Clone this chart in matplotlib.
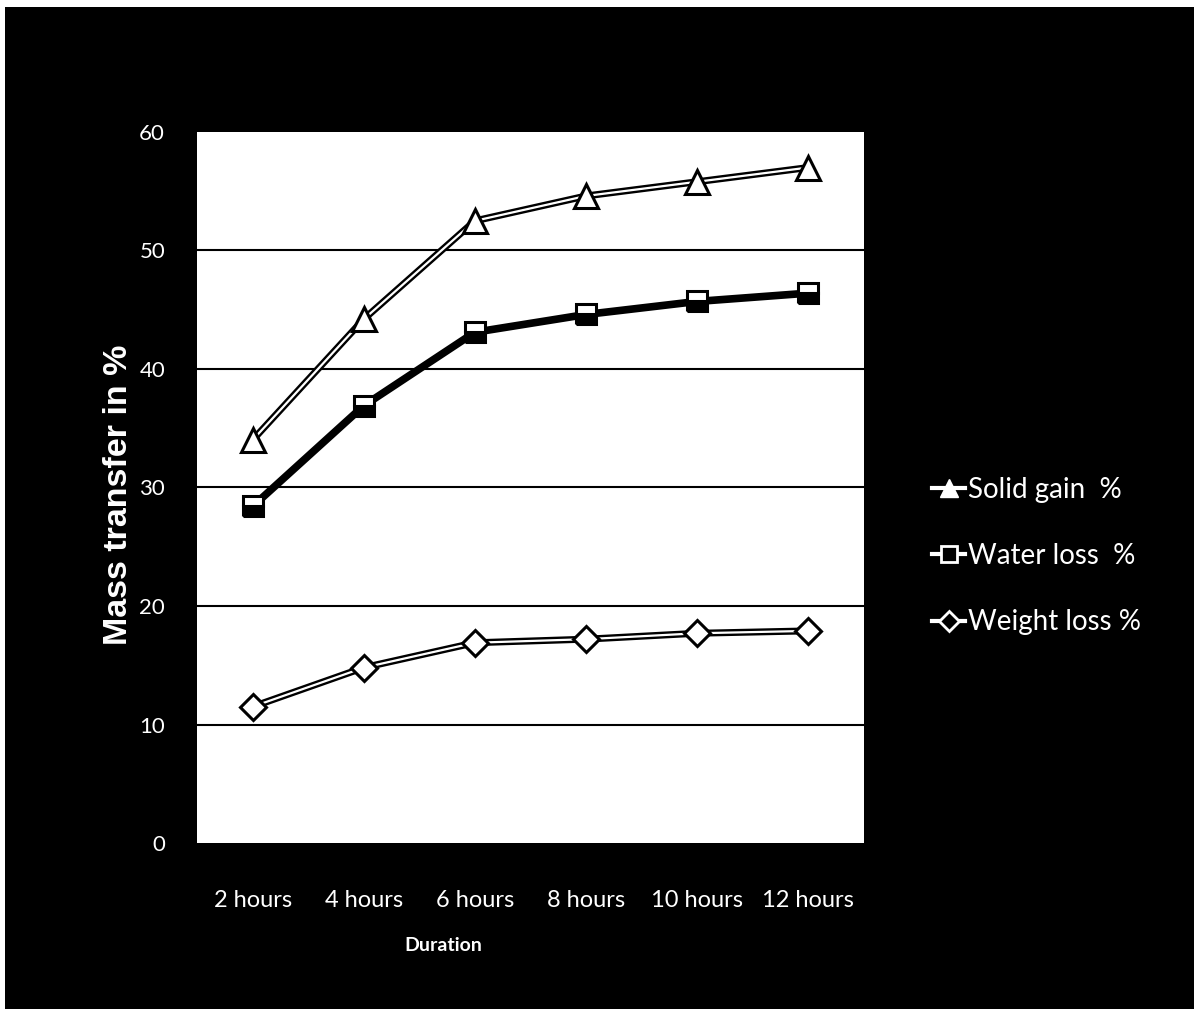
import matplotlib
matplotlib.use("Agg")
import matplotlib.pyplot as plt
from matplotlib.lines import Line2D
from matplotlib.patches import Rectangle

# durations and measured mass transfer (%)
durations = ["2 hours", "4 hours", "6 hours", "8 hours", "10 hours", "12 hours"]
solid_gain = [34.0, 44.2, 52.5, 54.6, 55.8, 57.0]
water_loss = [28.4, 36.9, 43.1, 44.6, 45.7, 46.4]
weight_loss = [11.5, 14.8, 16.9, 17.2, 17.7, 17.9]
y_ticks = [0, 10, 20, 30, 40, 50, 60]

body = ["Lato", "DejaVu Sans"]

fig = plt.figure(figsize=(11.94, 10.09), dpi=100, facecolor="white")
fig.add_artist(Rectangle((0.004, 0), 0.996, 0.993, transform=fig.transFigure,
                         facecolor="black", edgecolor="none", zorder=-10))

ax = fig.add_axes([0.165, 0.1645, 0.5585, 0.7047])
ax.set_facecolor("white")
x = list(range(len(durations)))

# outlined (double) line: black underlay with white core
def double_line(vals, marker, ms):
    ax.plot(x, vals, color="black", lw=5.0, solid_capstyle="round", zorder=3)
    ax.plot(x, vals, color="white", lw=1.6, zorder=4)
    ax.plot(x, vals, ls="none", marker=marker, ms=ms, mfc="white", mec="black",
            mew=2.2, zorder=5)

double_line(solid_gain, "^", 17)
ax.plot(x, water_loss, color="black", lw=5.5, zorder=3)
ax.plot(x, water_loss, ls="none", marker="s", ms=15, mfc="black", mec="black",
        mew=2.2, fillstyle="bottom", markerfacecoloralt="white", zorder=5)
double_line(weight_loss, "D", 13)

ax.set_xlim(-0.5, len(durations) - 0.5)
ax.set_ylim(0, 60)
ax.set_yticks(y_ticks)
ax.set_yticklabels([str(v) for v in y_ticks], family=body, fontsize=16,
                   color="white")
ax.set_xticks(x)
ax.set_xticklabels(durations, family=body, fontsize=17, color="white")
ax.tick_params(axis="y", length=0, pad=23)
ax.tick_params(axis="x", length=0, pad=34)
for g in y_ticks[1:-1]:
    ax.axhline(g, color="black", lw=1.5, zorder=1)
for s in ax.spines.values():
    s.set_visible(False)

ax.set_ylabel("Mass transfer in %", fontsize=24.5, fontweight="bold", color="white",
              family="Liberation Sans")
ax.yaxis.set_label_coords(-0.095, 0.49)
ax.set_xlabel("Duration", family=body, fontsize=14, fontweight="bold",
              color="white")
ax.xaxis.set_label_coords(0.369, -0.132)

handles = [
    Line2D([], [], color="white", lw=3, marker="^", ms=13, mfc="white", mec="white"),
    Line2D([], [], color="white", lw=3, marker="s", ms=12, mfc="black", mec="white", mew=2),
    Line2D([], [], color="white", lw=3, marker="D", ms=10, mfc="black", mec="white", mew=2),
]
labels = ["Solid gain  %", "Water loss  %", "Weight loss %"]
leg = fig.legend(handles, labels, loc="center left", bbox_to_anchor=(0.769, 0.449),
                 frameon=False, borderpad=0, handlelength=1.2, handletextpad=0.1,
                 labelspacing=1.45, prop={"family": body, "size": 20})
for t in leg.get_texts():
    t.set_color("white")

fig.savefig("out.png", dpi=100, facecolor=fig.get_facecolor())
